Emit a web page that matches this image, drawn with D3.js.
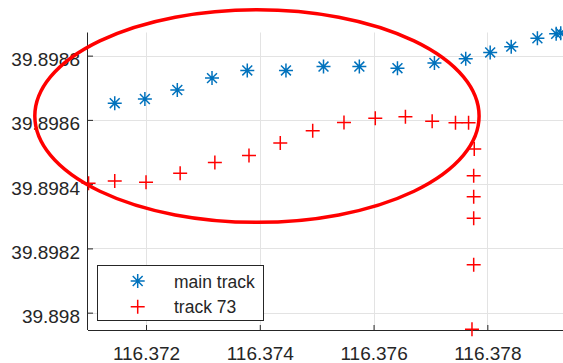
<!DOCTYPE html>
<html>
<head>
<meta charset="utf-8">
<script src="https://cdn.jsdelivr.net/npm/d3@7"></script>
<style>
  html, body { margin: 0; padding: 0; background: #fff; }
  svg { display: block; }
  text { font-family: "Liberation Sans", Arial, sans-serif; fill: #262626; }
</style>
</head>
<body>
<svg id="chart" width="563" height="363"></svg>
<script>
// Longitude / latitude of the main track points
const mainLon = [116.37145, 116.37198, 116.37255, 116.37316, 116.37378, 116.37446, 116.37512,
                 116.37575, 116.37642, 116.37707, 116.37762, 116.37805, 116.37842, 116.37888,
                 116.37921, 116.37929];
const mainLat = [39.898652, 39.898665, 39.898693, 39.898730, 39.898754, 39.898754, 39.898766,
                 39.898766, 39.898761, 39.898777, 39.898790, 39.898810, 39.898828, 39.898854,
                 39.898868, 39.898870];

// Longitude / latitude of track 73
const t73Lon = [116.37099, 116.37145, 116.37200, 116.37260, 116.37321, 116.37381, 116.37436,
                116.37493, 116.37548, 116.37603, 116.37656, 116.37703, 116.37744, 116.37767,
                116.37777, 116.37776, 116.37776, 116.37776, 116.37776, 116.37773];
const t73Lat = [39.898403, 39.898410, 39.898406, 39.898434, 39.898467, 39.898489, 39.898528,
                39.898566, 39.898592, 39.898605, 39.898610, 39.898596, 39.898591, 39.898591,
                39.898509, 39.898426, 39.898361, 39.898294, 39.898149, 39.897948];

// Tick values
const xTicks = [116.372, 116.374, 116.376, 116.378];
const yTicks = [39.898, 39.8982, 39.8984, 39.8986, 39.8988];

// Highlight ellipse (center and semi-axes in data units)
const ellipseCenter = [116.37395, 39.898612];
const ellipseRadii = [0.003905, 0.000331];

// Legend entries
const seriesNames = ["main track", "track 73"];

const svg = d3.select("#chart");
const plotLeft = 88, plotRight = 563, plotTop = 32.5, plotBottom = 330;

const x = d3.scaleLinear().domain([116.37098, 116.37933]).range([plotLeft, plotRight]);
const y = d3.scaleLinear().domain([39.897946, 39.898872]).range([plotBottom, plotTop]);

const blue = "#0072BD", red = "#FF0000", axisCol = "#262626";

// grid
const grid = svg.append("g").attr("stroke", "#e3e3e3").attr("stroke-width", 1);
grid.selectAll("line.gx").data(xTicks).join("line")
  .attr("x1", d => Math.round(x(d)) + 0.5).attr("x2", d => Math.round(x(d)) + 0.5)
  .attr("y1", plotTop).attr("y2", plotBottom);
grid.selectAll("line.gy").data(yTicks).join("line")
  .attr("y1", d => Math.round(y(d)) + 0.5).attr("y2", d => Math.round(y(d)) + 0.5)
  .attr("x1", plotLeft).attr("x2", plotRight);

// axes (inward ticks)
const xAxis = d3.axisBottom(x).tickValues(xTicks).tickSizeInner(-5).tickSizeOuter(0)
  .tickPadding(17).tickFormat(d3.format(".3f"));
const gx = svg.append("g").attr("transform", `translate(0,${plotBottom})`).call(xAxis);
gx.select(".domain").attr("stroke", axisCol).attr("d", `M${plotLeft},0.5H${plotRight}`);
gx.selectAll(".tick line").attr("stroke", axisCol);
gx.selectAll(".tick text").attr("font-size", 19).attr("fill", axisCol)
  .attr("font-family", "Liberation Sans, Arial, sans-serif");

const yAxis = d3.axisLeft(y).tickValues(yTicks).tickSizeInner(-5).tickSizeOuter(0)
  .tickPadding(8).tickFormat(d => d3.format(".4~f")(d));
const gy = svg.append("g").attr("transform", `translate(${plotLeft},0)`).call(yAxis);
gy.select(".domain").attr("stroke", axisCol).attr("d", `M-0.5,${plotTop}V${plotBottom}`);
gy.selectAll(".tick line").attr("stroke", axisCol);
gy.selectAll(".tick text").attr("font-size", 19).attr("fill", axisCol)
  .attr("dy", "0.52em")
  .attr("font-family", "Liberation Sans, Arial, sans-serif");

// marker shapes
function asterisk(g, cx, cy, r, color) {
  const d = r * Math.SQRT1_2;
  g.append("path")
    .attr("d", `M${cx - r},${cy}H${cx + r}M${cx},${cy - r}V${cy + r}` +
               `M${cx - d},${cy - d}L${cx + d},${cy + d}M${cx - d},${cy + d}L${cx + d},${cy - d}`)
    .attr("stroke", color).attr("stroke-width", 1.5).attr("fill", "none");
}
function plus(g, cx, cy, r, color) {
  g.append("path")
    .attr("d", `M${cx - r},${cy}H${cx + r}M${cx},${cy - r}V${cy + r}`)
    .attr("stroke", color).attr("stroke-width", 1.5).attr("fill", "none");
}

const marks = svg.append("g");
mainLon.forEach((lon, i) => asterisk(marks, x(lon), y(mainLat[i]), 7, blue));
t73Lon.forEach((lon, i) => plus(marks, x(lon), y(t73Lat[i]), 7, red));

// highlight ellipse
svg.append("ellipse")
  .attr("cx", x(ellipseCenter[0])).attr("cy", y(ellipseCenter[1]))
  .attr("rx", x(ellipseCenter[0] + ellipseRadii[0]) - x(ellipseCenter[0]))
  .attr("ry", y(ellipseCenter[1] - ellipseRadii[1]) - y(ellipseCenter[1]))
  .attr("fill", "none").attr("stroke", red).attr("stroke-width", 3.5);

// legend
const lg = svg.append("g");
lg.append("rect").attr("x", 97.5).attr("y", 265.5).attr("width", 166).attr("height", 55)
  .attr("fill", "#fff").attr("stroke", axisCol).attr("stroke-width", 1);
asterisk(lg, 137.7, 281, 7, blue);
plus(lg, 137.7, 306.7, 7, red);
lg.selectAll("text").data(seriesNames).join("text")
  .attr("x", 174).attr("y", (d, i) => 288 + i * 24.5)
  .attr("font-size", 17.5).text(d => d);
</script>
</body>
</html>
